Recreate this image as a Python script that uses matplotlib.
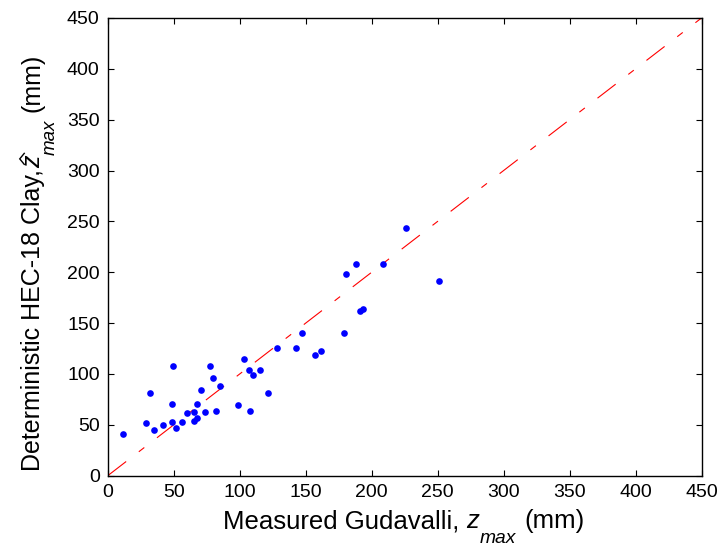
import matplotlib
matplotlib.use("Agg")
import matplotlib.pyplot as plt
from matplotlib.transforms import IdentityTransform
from matplotlib.lines import Line2D

plt.rcParams['font.family'] = ['Liberation Sans', 'DejaVu Sans']
plt.rcParams['lines.scale_dashes'] = False

measured = [11.2, 28.8, 35.1, 41.5, 48.6, 51.8, 55.9, 60.2, 65.3, 67.3,
            65.3, 67.3, 73.4, 81.7, 48.6, 31.9, 49.6, 70.6, 77.6, 79.7,
            85.0, 98.4, 107.8, 103.4, 106.8, 109.8, 115.1, 121.4, 128.5, 142.9,
            156.6, 161.6, 147.0, 179.3, 190.7, 193.0, 180.4, 187.7, 208.2, 225.9,
            250.7]
predicted = [40.5, 51.3, 44.5, 49.7, 52.9, 47.0, 52.9, 61.2, 53.9, 56.6,
             62.2, 70.3, 62.2, 63.4, 70.3, 81.1, 108.0, 83.8, 108.0, 95.9,
             87.7, 69.0, 63.4, 114.9, 103.8, 98.6, 103.8, 80.9, 125.4, 125.4,
             118.5, 122.8, 140.2, 140.2, 162.1, 163.5, 198.2, 207.7, 207.7, 243.1,
             191.6]
line_xy = [0, 450]
ticks = [0, 50, 100, 150, 200, 250, 300, 350, 400, 450]

W, H = 722, 546
fig = plt.figure(figsize=(W / 100, H / 100), dpi=100)
ax = fig.add_axes([108 / W, (H - 475.5) / H, 593.5 / W, 457.5 / H])
ax.plot(line_xy, line_xy, color='red', linewidth=0.8, linestyle=(0, (16.5, 11.5, 5, 11.5)))
ax.plot(measured, predicted, 'o', color='blue', markersize=4.8, markeredgewidth=0)
ax.set_xlim(0, 450)
ax.set_ylim(0, 450)
ax.set_xticks(ticks)
ax.set_yticks(ticks)
ax.tick_params(direction='in', top=True, right=True, labelsize=14, length=4.5,
               width=0.8, pad=6)
for s in ax.spines.values():
    s.set_linewidth(1.0)

SUB = 0.75
DROP = 15
renderer = fig.canvas.get_renderer()
tr = IdentityTransform()


def width_of(s, size, style):
    t = fig.text(0, 0, s, fontsize=size, style=style, transform=tr)
    w = t.get_window_extent(renderer).width
    t.remove()
    return w


def draw_label(pieces, x0, y0, vertical, fs):
    em = fs * 100 / 72.0
    pos = 0.0
    for text, rel, style, drop, gap, hat in pieces:
        size = fs * rel
        pos += gap * em
        if vertical:
            ax_, ay_ = x0 + drop, y0 + pos
            kw = dict(rotation=90, rotation_mode='anchor')
        else:
            ax_, ay_ = x0 + pos, y0 - drop
            kw = {}
        fig.text(ax_, ay_, text, fontsize=size, style=style, transform=tr,
                 ha='left', va='baseline', **kw)
        if hat:
            uv = [(0.14, 0.63), (0.36, 0.81), (0.58, 0.63)]
            if vertical:
                xs = [ax_ - v * em for u, v in uv]
                ys = [ay_ + u * em for u, v in uv]
            else:
                xs = [ax_ + u * em for u, v in uv]
                ys = [ay_ + v * em for u, v in uv]
            fig.add_artist(Line2D(xs, ys, transform=tr, color='black',
                                  linewidth=1.0, solid_joinstyle='miter'))
        pos += width_of(text, size, style)


xpieces = [('Measured Gudavalli,', 1, 'normal', 0, 0, False),
           ('z', 1, 'italic', 0, 0.278, False),
           ('max', SUB, 'italic', DROP, 0.02, False),
           ('(mm)', 1, 'normal', 0, 0.30, False)]
draw_label(xpieces, 223, H - 528, vertical=False, fs=18.5)

ypieces = [('Deterministic HEC-18 Clay,', 1, 'normal', 0, 0, False),
           ('z', 1, 'italic', 0, 0.05, True),
           ('max', SUB, 'italic', DROP, 0.02, False),
           ('(mm)', 1, 'normal', 0, 0.30, False)]
draw_label(ypieces, 40, H - 471, vertical=True, fs=18)

fig.savefig('out.png', dpi=100)
